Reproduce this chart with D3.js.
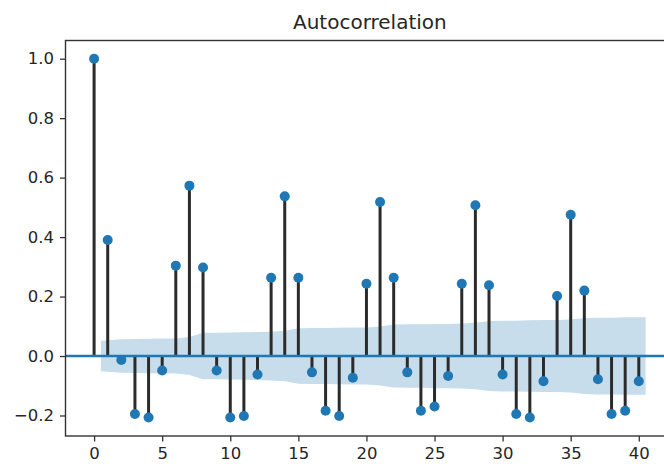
<!DOCTYPE html>
<html>
<head>
<meta charset="utf-8">
<script src="https://cdn.jsdelivr.net/npm/d3@7"></script>
<style>
  html, body { margin: 0; padding: 0; background: #fff; }
  svg { display: block; font-family: "DejaVu Sans", sans-serif; }
</style>
</head>
<body>
<svg id="chart" width="664" height="466"></svg>
<script>
// Autocorrelation by lag (lag 0 .. 40)
const lags = d3.range(0, 41);
const acfValues = [
  1.000, 0.390, -0.013, -0.195, -0.207, -0.049, 0.304, 0.573, 0.298, -0.049,
  -0.207, -0.202, -0.062, 0.263, 0.537, 0.263, -0.055, -0.184, -0.202, -0.073,
  0.243, 0.518, 0.263, -0.055, -0.184, -0.170, -0.067, 0.243, 0.507, 0.238,
  -0.062, -0.195, -0.207, -0.085, 0.202, 0.475, 0.220, -0.078, -0.195, -0.184,
  -0.085
];
// Half-width of the confidence band for lags 1 .. 40
const bandHalfWidth = [
  0.051, 0.056, 0.057, 0.058, 0.059, 0.059, 0.064, 0.078, 0.078, 0.079,
  0.080, 0.081, 0.082, 0.085, 0.093, 0.094, 0.094, 0.095, 0.096, 0.096,
  0.099, 0.106, 0.107, 0.107, 0.108, 0.108, 0.109, 0.112, 0.118, 0.119,
  0.119, 0.120, 0.121, 0.121, 0.123, 0.128, 0.129, 0.129, 0.130, 0.130
];
const xTicks = [0, 5, 10, 15, 20, 25, 30, 35, 40];
const yTicks = [-0.2, 0.0, 0.2, 0.4, 0.6, 0.8, 1.0];
const title = "Autocorrelation";

const svg = d3.select("#chart");
const plot = { left: 65.5, right: 674.2, top: 40.5, bottom: 436 };

const x = d3.scaleLinear().domain([-2.1, 42.6]).range([plot.left, plot.right]);
const y = d3.scaleLinear().domain([-0.269, 1.0612]).range([plot.bottom, plot.top]);

svg.append("defs").append("clipPath").attr("id", "plotClip")
  .append("rect")
  .attr("x", plot.left).attr("y", plot.top)
  .attr("width", plot.right - plot.left).attr("height", plot.bottom - plot.top);

const g = svg.append("g").attr("clip-path", "url(#plotClip)");

// Confidence band: first point pulled to 0.5, last pushed to 40.5
const band = bandHalfWidth.map((w, i) => {
  let lag = i + 1;
  if (i === 0) lag -= 0.5;
  if (i === bandHalfWidth.length - 1) lag += 0.5;
  return { lag, w };
});
g.append("path")
  .datum(band)
  .attr("fill", "#1f77b4")
  .attr("fill-opacity", 0.25)
  .attr("d", d3.area().x(d => x(d.lag)).y0(d => y(-d.w)).y1(d => y(d.w)));

const data = lags.map((lag, i) => ({ lag, v: acfValues[i] }));

// Stems
g.selectAll("line.stem").data(data).join("line")
  .attr("class", "stem")
  .attr("x1", d => x(d.lag)).attr("x2", d => x(d.lag))
  .attr("y1", y(0)).attr("y2", d => y(d.v))
  .attr("stroke", "#2b2b2b").attr("stroke-width", 3);

// Zero line
g.append("line")
  .attr("x1", plot.left).attr("x2", plot.right)
  .attr("y1", y(0)).attr("y2", y(0))
  .attr("stroke", "#1f77b4").attr("stroke-width", 2.6);

// Markers
g.selectAll("circle.pt").data(data).join("circle")
  .attr("class", "pt")
  .attr("cx", d => x(d.lag)).attr("cy", d => y(d.v))
  .attr("r", 5)
  .attr("fill", "#1f77b4");

// Axes
const fmt = v => d3.format(".1f")(v).replace("-", "\u2212");
const xAxis = svg.append("g")
  .attr("transform", `translate(0,${plot.bottom})`)
  .call(d3.axisBottom(x).tickValues(xTicks).tickSize(5.5).tickPadding(6).tickFormat(d3.format("d")));
const yAxis = svg.append("g")
  .attr("transform", `translate(${plot.left},0)`)
  .call(d3.axisLeft(y).tickValues(yTicks).tickSize(5.5).tickPadding(6).tickFormat(fmt));

[xAxis, yAxis].forEach(ax => {
  ax.select(".domain").remove();
  ax.selectAll(".tick line").attr("stroke", "#333").attr("stroke-width", 1.3);
  ax.selectAll(".tick text")
    .attr("fill", "#262626")
    .style("font-family", "'DejaVu Sans', sans-serif")
    .style("font-size", "16.5px");
});

// Spines
svg.append("rect")
  .attr("x", plot.left).attr("y", plot.top)
  .attr("width", plot.right - plot.left).attr("height", plot.bottom - plot.top)
  .attr("fill", "none").attr("stroke", "#333").attr("stroke-width", 1.4);

// Title
svg.append("text")
  .attr("x", (plot.left + plot.right) / 2)
  .attr("y", 28.5)
  .attr("text-anchor", "middle")
  .attr("fill", "#262626")
  .style("font-size", "20px")
  .text(title);
</script>
</body>
</html>
